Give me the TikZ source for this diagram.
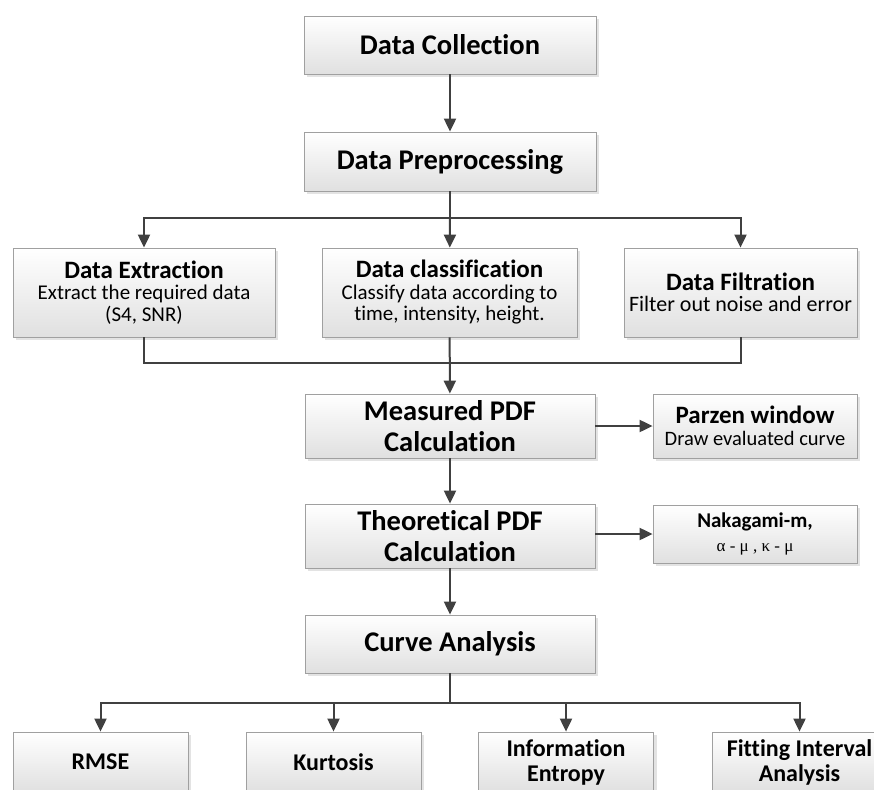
\documentclass[tikz,border=0pt]{standalone}
\usepackage{fontspec}
\setmainfont{Carlito}[Ligatures={NoCommon}]
\newfontfamily\greekfont{Liberation Serif}
\usepackage{tikz}
\usetikzlibrary{arrows.meta}
\usetikzlibrary{shadows}

\definecolor{linegray}{HTML}{404040}
\definecolor{boxgray}{HTML}{A0A0A0}
\definecolor{boxfill}{HTML}{E0E0E0}
\definecolor{shadowgray}{HTML}{C8C8C8}

\newcommand{\flowbig}{\fontsize{28.5}{31}\selectfont\bfseries}
\newcommand{\flowhead}{\fontsize{25}{26}\selectfont\bfseries}
\newcommand{\flownote}{\fontsize{21}{21.5}\selectfont}
\newcommand{\flowlow}{\fontsize{24}{25}\selectfont\bfseries}

\tikzset{
  box/.style={draw=boxgray, line width=0.8pt, top color=white, bottom color=boxfill,
    drop shadow={shadow xshift=3pt, shadow yshift=-3pt, fill=shadowgray},
    align=center, inner sep=0pt},
  flow/.style={draw=linegray, line width=2pt},
  flowarrow/.style={flow, -{Triangle[length=13pt, width=12pt]}},
}

\begin{document}
\begin{tikzpicture}[x=1pt, y=-1pt]
  \useasboundingbox (0,0) rectangle (874,789);

  % main column
  \node[box, minimum width=292pt, minimum height=58pt, font=\flowbig] (collect) at (450,45) {Data Collection};
  \node[box, minimum width=292pt, minimum height=59pt, font=\flowbig] (prep) at (450,161.5) {Data Preprocessing};

  % three data steps
  \node[box, minimum width=262pt, minimum height=89pt, font=\flownote] (extract) at (144,292.5)
    {{\flowhead Data Extraction}\\ Extract the required data\\ (S4, SNR)};
  \node[box, minimum width=255pt, minimum height=89pt, font=\flownote] (classify) at (449.5,292.5)
    {{\flowhead Data classification}\\ Classify data according to\\ time, intensity, height.};
  \node[box, minimum width=233pt, minimum height=89pt, font=\flownote] (filter) at (740.5,292.5)
    {{\flowhead Data Filtration}\\ {\fontsize{22}{23}\selectfont Filter out noise and error}};

  % pdf steps
  \node[box, minimum width=290pt, minimum height=64pt, font=\flowbig] (measured) at (450,426)
    {Measured PDF\\ Calculation};
  \node[box, minimum width=204pt, minimum height=64pt, font=\flownote] (parzen) at (755,426)
    {{\flowhead Parzen window}\\ {\fontsize{20.5}{21}\selectfont Draw evaluated curve}};
  \node[box, minimum width=290pt, minimum height=64pt, font=\flowbig] (theory) at (450,536)
    {Theoretical PDF\\ Calculation};
  \node[box, minimum width=204pt, minimum height=58pt, font=\flownote] (nakagami) at (755,534)
    {{\bfseries Nakagami-m,}\\[2pt] {\greekfont\fontsize{17}{18}\selectfont α - μ , κ - μ}};
  \node[box, minimum width=290pt, minimum height=58pt, font=\flowbig] (curve) at (450,644) {Curve Analysis};

  % analysis boxes
  \node[box, minimum width=175pt, minimum height=60pt, font=\flowlow] (rmse) at (100.5,762) {RMSE};
  \node[box, minimum width=175pt, minimum height=60pt, font=\flowlow] (kurt) at (333.5,762) {Kurtosis};
  \node[box, minimum width=175pt, minimum height=60pt, font=\flowlow] (entropy) at (566,762) {Information\\ Entropy};
  \node[box, minimum width=175pt, minimum height=60pt, font=\flowlow] (fitting) at (799.5,762) {Fitting Interval\\ Analysis};

  % branch points
  \coordinate (split1) at (450,218);
  \coordinate (join1) at (450,363);
  \coordinate (split2) at (450,703);

  % Draw the connectors
  \draw[flowarrow] (collect) -- (prep);
  \draw[flow] (prep) -- (split1);
  \draw[flowarrow] (split1) -| (extract);
  \draw[flowarrow] (split1) -- (classify);
  \draw[flowarrow] (split1) -| (filter);

  \draw[flow] (extract) |- (join1) -| (filter);
  \draw[flowarrow] (classify) -- (measured);

  \draw[flowarrow] (measured) -- (parzen);
  \draw[flowarrow] (measured) -- (theory);
  \draw[flowarrow] (theory.east |- nakagami.west) -- (nakagami.west);
  \draw[flowarrow] (theory) -- (curve);

  \draw[flow] (curve) -- (split2);
  \draw[flowarrow] (split2) -| (rmse);
  \draw[flowarrow] (split2) -| (kurt);
  \draw[flowarrow] (split2) -| (entropy);
  \draw[flowarrow] (split2) -| (fitting);
\end{tikzpicture}
\end{document}
